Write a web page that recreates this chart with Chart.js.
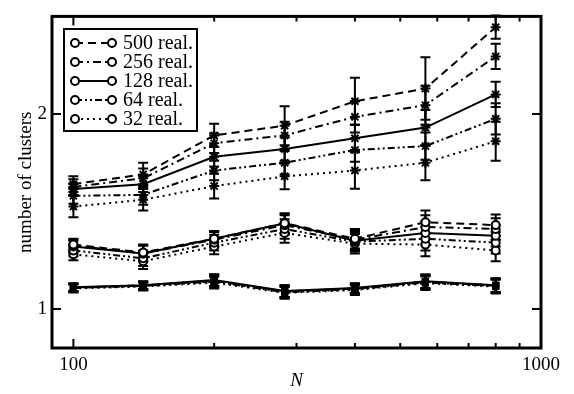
<!DOCTYPE html>
<html>
<head>
<meta charset="utf-8">
<script src="https://cdn.jsdelivr.net/npm/chart.js@4.4.1/dist/chart.umd.min.js"></script>
<style>
html, body { margin: 0; padding: 0; background: #fff; }
</style>
</head>
<body>
<canvas id="myChart" width="574" height="394"></canvas>
<script>
var nValues = [100, 141, 200, 283, 400, 566, 800];
var seriesLabels = ["500 real.", "256 real.", "128 real.", "64 real.", "32 real."];
var xTickLabels = [100, 1000];
var yTickLabels = [1, 2];

// upper branch (stars)
var upper500 = [1.64, 1.69, 1.89, 1.94, 2.065, 2.13, 2.445];
var upper256 = [1.625, 1.67, 1.85, 1.89, 1.985, 2.045, 2.295];
var upper128 = [1.615, 1.64, 1.78, 1.82, 1.875, 1.93, 2.10];
var upper64 = [1.58, 1.585, 1.71, 1.75, 1.815, 1.835, 1.975];
var upper32 = [1.525, 1.56, 1.63, 1.68, 1.71, 1.75, 1.86];
var upper500Err = [0.04, 0.06, 0.06, 0.10, 0.12, 0.16, 0.06];
var upper256Err = [0.04, 0.05, 0.05, 0.07, 0.08, 0.10, 0.065];
var upper128Err = [0.03, 0.04, 0.05, 0.06, 0.07, 0.09, 0.065];
var upper64Err = [0.04, 0.05, 0.05, 0.06, 0.06, 0.07, 0.08];
var upper32Err = [0.055, 0.055, 0.063, 0.066, 0.094, 0.09, 0.10];

// middle branch (circles)
var middle500 = [1.33, 1.29, 1.36, 1.44, 1.36, 1.445, 1.43];
var middle256 = [1.325, 1.285, 1.355, 1.43, 1.355, 1.42, 1.41];
var middle128 = [1.32, 1.285, 1.36, 1.44, 1.35, 1.39, 1.375];
var middle64 = [1.30, 1.26, 1.34, 1.41, 1.345, 1.36, 1.34];
var middle32 = [1.28, 1.245, 1.32, 1.39, 1.335, 1.33, 1.30];
var middleErr = [0.03, 0.04, 0.04, 0.05, 0.05, 0.06, 0.055];

// lower branch (squares)
var lower500 = [1.11, 1.12, 1.145, 1.09, 1.105, 1.14, 1.12];
var lower256 = [1.11, 1.12, 1.145, 1.09, 1.105, 1.14, 1.12];
var lower128 = [1.112, 1.122, 1.148, 1.092, 1.107, 1.142, 1.122];
var lower64 = [1.108, 1.118, 1.14, 1.086, 1.10, 1.136, 1.118];
var lower32 = [1.105, 1.115, 1.135, 1.083, 1.097, 1.132, 1.115];
var lowerErr = [0.02, 0.02, 0.03, 0.03, 0.025, 0.035, 0.035];

var dashes = [[8, 5], [8, 4, 2, 4], [], [7, 3, 2, 3, 2, 3], [2, 4]];
var fontFam = "'Liberation Serif', 'Times New Roman', serif";

var groups = [
  { vals: [upper500, upper256, upper128, upper64, upper32],
    errs: [upper500Err, upper256Err, upper128Err, upper64Err, upper32Err],
    style: "star", radius: 5, fill: "#000", bw: 2 },
  { vals: [middle500, middle256, middle128, middle64, middle32],
    errs: [middleErr, middleErr, middleErr, middleErr, middleErr],
    style: "circle", radius: 4, fill: "#fff", bw: 2 },
  { vals: [lower500, lower256, lower128, lower64, lower32],
    errs: [lowerErr, lowerErr, lowerErr, lowerErr, lowerErr],
    style: "rect", radius: 4, fill: "#000", bw: 1.5 }
];

var datasets = [];
groups.forEach(function(g) {
  for (var s = 0; s < 5; s++) {
    var pts = [];
    for (var i = 0; i < nValues.length; i++) {
      pts.push({ x: nValues[i], y: g.vals[s][i] });
    }
    datasets.push({
      label: seriesLabels[s],
      data: pts,
      errors: g.errs[s],
      borderColor: "#000",
      backgroundColor: g.fill,
      borderWidth: 2,
      borderDash: dashes[s],
      pointStyle: g.style,
      pointRadius: g.radius,
      pointBorderWidth: g.bw,
      pointBackgroundColor: g.fill,
      pointBorderColor: "#000",
      tension: 0
    });
  }
});

// vertical error bars with caps
var errorBars = {
  id: "errorBars",
  beforeDatasetsDraw: function(chart) {
    var ctx = chart.ctx;
    var xs = chart.scales.x, ys = chart.scales.y;
    ctx.save();
    ctx.strokeStyle = "#000";
    ctx.lineWidth = 2;
    ctx.setLineDash([]);
    chart.data.datasets.forEach(function(ds) {
      ds.data.forEach(function(p, i) {
        var e = ds.errors[i];
        var px = xs.getPixelForValue(p.x);
        var top = ys.getPixelForValue(p.y + e);
        var bot = ys.getPixelForValue(p.y - e);
        ctx.beginPath();
        ctx.moveTo(px, top); ctx.lineTo(px, bot);
        ctx.moveTo(px - 5, top); ctx.lineTo(px + 5, top);
        ctx.moveTo(px - 5, bot); ctx.lineTo(px + 5, bot);
        ctx.stroke();
      });
    });
    ctx.restore();
  }
};

// frame and inward ticks
var frame = {
  id: "frame",
  afterDraw: function(chart) {
    var ctx = chart.ctx, a = chart.chartArea;
    var xs = chart.scales.x, ys = chart.scales.y;
    ctx.save();
    ctx.strokeStyle = "#000";
    ctx.setLineDash([]);
    ctx.lineWidth = 2;
    var minors = [200, 300, 400, 500, 600, 700, 800, 900];
    ctx.beginPath();
    xTickLabels.forEach(function(v) {
      var px = xs.getPixelForValue(v);
      ctx.moveTo(px, a.bottom); ctx.lineTo(px, a.bottom - 9);
      ctx.moveTo(px, a.top); ctx.lineTo(px, a.top + 9);
    });
    minors.forEach(function(v) {
      var px = xs.getPixelForValue(v);
      ctx.moveTo(px, a.bottom); ctx.lineTo(px, a.bottom - 5);
      ctx.moveTo(px, a.top); ctx.lineTo(px, a.top + 5);
    });
    yTickLabels.forEach(function(v) {
      var py = ys.getPixelForValue(v);
      ctx.moveTo(a.left, py); ctx.lineTo(a.left + 9, py);
      ctx.moveTo(a.right, py); ctx.lineTo(a.right - 9, py);
    });
    ctx.stroke();
    ctx.lineWidth = 3;
    ctx.strokeRect(a.left, a.top, a.right - a.left, a.bottom - a.top);
    ctx.restore();
  }
};

// legend box in upper left
var legendBox = {
  id: "legendBox",
  afterDraw: function(chart) {
    var ctx = chart.ctx;
    ctx.save();
    ctx.fillStyle = "#fff";
    ctx.fillRect(64, 29, 133, 102);
    ctx.strokeStyle = "#000";
    ctx.lineWidth = 2;
    ctx.setLineDash([]);
    ctx.strokeRect(64, 29, 133, 102);
    ctx.font = "20px " + fontFam;
    ctx.textBaseline = "middle";
    ctx.fillStyle = "#000";
    for (var s = 0; s < seriesLabels.length; s++) {
      var y = 43 + s * 19;
      ctx.lineWidth = 2;
      ctx.setLineDash(dashes[s]);
      ctx.beginPath();
      ctx.moveTo(75, y); ctx.lineTo(112, y);
      ctx.stroke();
      ctx.setLineDash([]);
      [75, 112].forEach(function(cx) {
        ctx.beginPath();
        ctx.arc(cx, y, 4, 0, Math.PI * 2);
        ctx.fillStyle = "#fff";
        ctx.fill();
        ctx.stroke();
      });
      ctx.fillStyle = "#000";
      ctx.fillText(seriesLabels[s], 123, y + 1);
    }
    ctx.restore();
  }
};

var ctx = document.getElementById("myChart");
var chart = new Chart(ctx, {
  type: "line",
  data: { datasets: datasets },
  plugins: [errorBars, frame, legendBox],
  options: {
    responsive: false,
    animation: false,
    layout: { padding: { top: 5, right: 33, left: 0, bottom: 0 } },
    plugins: { legend: { display: false }, tooltip: { enabled: false } },
    scales: {
      x: {
        type: "logarithmic",
        min: 90,
        max: 1000,
        afterBuildTicks: function(scale) {
          scale.ticks = xTickLabels.map(function(v) { return { value: v }; });
        },
        afterFit: function(scale) { scale.height = 46; },
        grid: { display: false, drawTicks: false },
        border: { display: false },
        ticks: {
          autoSkip: false,
          maxRotation: 0,
          padding: 6,
          color: "#000",
          font: { family: fontFam, size: 19 },
          callback: function(v) { return String(v); }
        },
        title: {
          display: true,
          text: "N",
          color: "#000",
          padding: { top: 0, bottom: 2 },
          font: { family: fontFam, size: 19, style: "italic" }
        }
      },
      y: {
        type: "linear",
        min: 0.8,
        max: 2.5,
        afterBuildTicks: function(scale) {
          scale.ticks = yTickLabels.map(function(v) { return { value: v }; });
        },
        afterFit: function(scale) { scale.width = 52; },
        grid: { display: false, drawTicks: false },
        border: { display: false },
        ticks: {
          padding: 5,
          color: "#000",
          font: { family: fontFam, size: 19 },
          callback: function(v) { return String(v); }
        },
        title: {
          display: true,
          text: "number of clusters",
          color: "#000",
          padding: { top: 15, bottom: 0 },
          font: { family: fontFam, size: 19 }
        }
      }
    }
  }
});
</script>
</body>
</html>
